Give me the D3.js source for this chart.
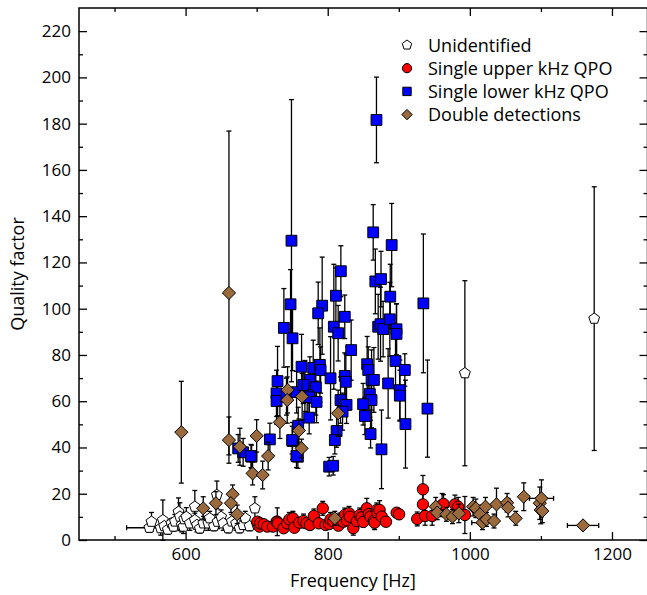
<!DOCTYPE html>
<html>
<head>
<meta charset="utf-8">
<script src="https://cdn.jsdelivr.net/npm/d3@7"></script>
<style>
  body { margin: 0; background: #fff; }
  svg text { font-family: "Open Sans", sans-serif; }
</style>
</head>
<body>
<div id="container"></div>
<script>
// each point: [frequency Hz, quality factor, Q error, frequency error]
let unidentified = [
  [549, 5.3, 2, 32], [552, 7.9, 4, 0], [565, 5.1, 3, 0], [568, 8.6, 8.7, 0],
  [570, 6, 2, 0], [575, 4.5, 2, 0], [580, 7.2, 2, 0], [583, 5.8, 2, 0],
  [585, 8, 3, 0], [590, 12.2, 6, 0], [592, 10.1, 6, 0], [594.5, 6.5, 3, 0],
  [597, 5.8, 3, 0], [598, 9, 3, 0], [601, 10, 4, 0], [606, 7.2, 3, 0],
  [613, 14.4, 7, 0], [613, 8.6, 3, 0], [616, 6.5, 3, 0], [620, 5, 2, 0],
  [625, 7.2, 3, 0], [632, 7.2, 3, 0], [634, 9.4, 3, 0], [640, 6, 2, 0],
  [644, 19.5, 6, 0], [645, 7.9, 3, 0], [650, 10, 3, 0], [653, 7.2, 3, 0],
  [660, 5.1, 2, 0], [665, 8, 3, 0], [671, 7.2, 3, 0], [676, 5.1, 2, 0],
  [681, 6.5, 2, 0], [684, 9.4, 3, 0], [690, 6, 2, 0], [697.5, 13.7, 5, 0],
  [700, 7, 2, 0],
  [993, 72.1, 40, 0], [1175, 95.7, 57, 0]
];

let upperKHz = [
  [701, 7.9, 2], [704, 5.8, 2], [705, 7.2, 2], [710, 6.8, 2], [715, 5.8, 2],
  [723, 5.8, 2], [728, 7.9, 2], [729, 7.9, 6], [730, 7.2, 2], [738, 5.1, 2],
  [743, 7.2, 2], [746, 8.9, 3], [751, 9.4, 3], [753, 5.3, 2], [760, 7.5, 2],
  [766, 8.2, 3], [770, 7.2, 2], [775, 6.5, 2], [780.5, 10.4, 3], [787.5, 7.2, 2],
  [793, 13.7, 3], [797, 6.5, 2], [802, 6.9, 2], [804, 8.9, 3], [808, 8, 2],
  [815, 6.2, 2], [817, 8.6, 3], [822, 7.9, 2], [824, 10.8, 3], [827, 8.5, 2],
  [830, 11.5, 3], [831, 10.1, 3], [836, 5.1, 3], [841, 8.2, 3], [845, 10.8, 3],
  [847.5, 9.8, 3], [850, 7.8, 2], [855, 13.7, 4.3], [858, 11.2, 3], [860, 10.1, 3],
  [865, 8.3, 3], [866, 7.5, 3], [869, 13, 3], [870, 11.8, 3], [873, 13, 4],
  [876, 10.1, 3], [882, 7.9, 2], [897, 11.8, 2], [900.5, 11.1, 2], [926, 9.1, 3],
  [934, 21.9, 6], [934, 15.4, 5], [937, 10.4, 4], [947, 10.4, 4], [961, 15.1, 5],
  [963, 15.6, 4], [979, 15.4, 4], [983.5, 14.4, 4], [993, 10.8, 8]
];

let lowerKHz = [
  [749, 129.4, 61], [868.6, 181.6, 18.5], [864, 133, 12], [890, 127.5, 18],
  [818.5, 116.2, 11], [867, 111.8, 14], [875, 112.8, 12], [811.5, 105.6, 12],
  [888, 105.2, 14], [934.6, 102.3, 30], [940.4, 56.8, 21], [747.7, 101.9, 15],
  [738.3, 91.7, 17], [750.5, 87.2, 14], [792.2, 101.3, 21], [786.6, 98, 13.5],
  [808.6, 92.2, 27], [814.7, 89.4, 12], [824, 96.5, 9.4], [833, 82.1, 13],
  [763.2, 74.9, 14], [779.6, 74.4, 12], [789, 75.7, 16], [790, 73.5, 10],
  [804, 69.9, 18], [824, 70.9, 10], [825.5, 68.4, 12], [729.4, 68.7, 15],
  [728, 63.4, 10], [728, 60.1, 10], [742, 62, 8], [756.2, 63.9, 9],
  [767.9, 66.6, 11], [774.9, 69.2, 10], [783.3, 66, 12], [771.1, 62.7, 8],
  [773.9, 61.7, 8], [784.3, 59.7, 9], [773.9, 52.9, 7], [750.5, 42.8, 8],
  [758.5, 49.4, 8], [758, 36, 5], [718.6, 43.5, 7], [692.9, 36, 5],
  [818, 60.5, 10], [826.5, 58.4, 8], [820.9, 55.5, 8], [812.5, 47.1, 7],
  [810, 43.2, 6], [802, 31.7, 4], [807.7, 32.1, 4], [855.5, 76, 12],
  [857, 73.5, 10], [861.7, 69.2, 13], [865, 69.2, 14], [859.3, 63.1, 10],
  [861.7, 60.5, 12], [849.8, 58.7, 9], [852.3, 53.6, 8], [860.3, 45.8, 6],
  [871, 92.2, 14], [874.3, 93.3, 16], [878, 91.2, 12], [887.4, 95.4, 16],
  [896.8, 91.1, 11], [896.8, 89.1, 13], [895.4, 77.4, 12], [908.5, 73.5, 7],
  [885, 67.7, 15], [901.5, 64.8, 13], [901.5, 62.4, 11], [909.4, 50.1, 19],
  [875.7, 39.2, 17], [765.5, 67, 8], [674, 39.6, 6], [681, 37.9, 6],
  [692, 36.3, 5], [750, 43.2, 6], [756, 36.3, 5]
];

let doubles = [
  [594, 46.6, 22, 0], [661, 106.8, 70, 0], [661, 43.2, 10, 0], [676.4, 40.3, 8, 0],
  [694.3, 28.8, 5, 0], [708.4, 28.1, 6, 0], [716.2, 36.3, 6, 0], [700, 45, 7, 0],
  [732.7, 50.9, 7, 0], [743.5, 64.9, 10, 0], [743, 60.5, 10, 0], [764, 62, 10, 0],
  [759.4, 47.3, 5, 0], [763.2, 39.6, 4, 0], [814.7, 54.8, 10, 0], [624.8, 13.7, 5, 0],
  [642.7, 15.9, 5, 0], [666.2, 19.8, 4, 0], [663.8, 15.9, 4, 0], [672.6, 11.1, 4, 0],
  [810, 9.4, 3, 0], [952, 14.4, 4, 0], [954, 11.8, 3, 0], [967, 11.1, 3, 0],
  [975.6, 10.1, 3, 0], [984.5, 11.5, 4, 0], [1004.6, 14.4, 4, 0], [1008.4, 13.7, 4, 0],
  [1014, 11.1, 4, 0], [1017.7, 7.5, 3, 15], [1022, 14.4, 4, 0], [1023.4, 8.9, 3, 0],
  [1034, 8.2, 3, 0], [1037.5, 15.4, 7, 0], [1052.4, 16.1, 4, 0], [1053.8, 14, 4, 0],
  [1064.6, 9.4, 3, 0], [1075.9, 18.7, 6, 0], [1098.4, 15.9, 7, 0], [1100.8, 18, 8, 17],
  [1099.8, 13, 6, 0], [1102, 12.5, 5, 0], [1159.3, 6.3, 1.5, 22]
];

let legendLabels = ["Unidentified", "Single upper kHz QPO", "Single lower kHz QPO", "Double detections"];
let xTicks = [600, 800, 1000, 1200];
let yTicks = [0, 20, 40, 60, 80, 100, 120, 140, 160, 180, 200, 220];

let w = 647;
let h = 595;
let padL = 79, padR = 647.5, padT = 8, padB = 540;

let viz = d3.select("#container")
  .append("svg")
    .attr("width", w)
    .attr("height", h)
    .style("background-color", "rgb(255,255,255)");

let xScale = d3.scaleLinear().domain([450, 1250]).range([padL, padR]);
let yScale = d3.scaleLinear().domain([0, 230]).range([padB, padT]);

// axes: ticks point inward on all four sides
function styleAxis(g) {
  g.select(".domain").remove();
  g.selectAll("line").attr("stroke", "#000").attr("stroke-width", 1.3);
  g.selectAll("text").attr("fill", "#000").style("font-size", "17px");
}

let xMinor = d3.range(500, 1250, 200);
let yMinor = d3.range(10, 230, 20);

viz.append("g").attr("transform", "translate(0," + padB + ")")
  .call(d3.axisBottom(xScale).tickValues(xTicks).tickSize(-8).tickPadding(8).tickFormat(d3.format("d")))
  .call(styleAxis);
viz.append("g").attr("transform", "translate(0," + padB + ")")
  .call(d3.axisBottom(xScale).tickValues(xMinor).tickSize(-4).tickFormat(""))
  .call(styleAxis);
viz.append("g").attr("transform", "translate(0," + padT + ")")
  .call(d3.axisTop(xScale).tickValues(xTicks).tickSize(-8).tickFormat(""))
  .call(styleAxis);
viz.append("g").attr("transform", "translate(0," + padT + ")")
  .call(d3.axisTop(xScale).tickValues(xMinor).tickSize(-4).tickFormat(""))
  .call(styleAxis);

viz.append("g").attr("transform", "translate(" + padL + ",0)")
  .call(d3.axisLeft(yScale).tickValues(yTicks).tickSize(-8).tickPadding(8))
  .call(styleAxis);
viz.append("g").attr("transform", "translate(" + padL + ",0)")
  .call(d3.axisLeft(yScale).tickValues(yMinor).tickSize(-4).tickFormat(""))
  .call(styleAxis);
viz.append("g").attr("transform", "translate(" + padR + ",0)")
  .call(d3.axisRight(yScale).tickValues(yTicks).tickSize(-8).tickFormat(""))
  .call(styleAxis);
viz.append("g").attr("transform", "translate(" + padR + ",0)")
  .call(d3.axisRight(yScale).tickValues(yMinor).tickSize(-4).tickFormat(""))
  .call(styleAxis);

viz.append("rect")
  .attr("x", padL).attr("y", padT)
  .attr("width", padR - padL).attr("height", padB - padT)
  .attr("fill", "none").attr("stroke", "#000").attr("stroke-width", 1.5);

// axis titles
viz.append("text")
  .attr("x", 353).attr("y", 587)
  .attr("text-anchor", "middle")
  .style("font-size", "18px")
  .text("Frequency [Hz]");
viz.append("text")
  .attr("transform", "translate(24," + ((padT + padB) / 2) + ") rotate(-90)")
  .attr("text-anchor", "middle")
  .style("font-size", "18px")
  .text("Quality factor");

// marker shapes
function pentagonPath(r) {
  let pts = [];
  for (let i = 0; i < 5; i++) {
    let a = -Math.PI / 2 + i * 2 * Math.PI / 5;
    pts.push([r * Math.cos(a), r * Math.sin(a)]);
  }
  return "M" + pts.map(p => p.join(",")).join("L") + "Z";
}
function diamondPath(r) {
  return "M0," + (-r) + "L" + r + ",0L0," + r + "L" + (-r) + ",0Z";
}
function squarePath(s) {
  return "M" + (-s) + "," + (-s) + "H" + s + "V" + s + "H" + (-s) + "Z";
}

let series = [
  { data: unidentified, fill: "#ffffff", path: pentagonPath(5.7), circle: false },
  { data: upperKHz, fill: "#ff0000", circle: true, r: 5.7 },
  { data: lowerKHz, fill: "#0000ff", path: squarePath(5.4), circle: false },
  { data: doubles, fill: "#9a6a3c", path: diamondPath(6.6), circle: false }
];

let cap = 2.5;
series.forEach(function(s) {
  let g = viz.append("g");
  // error bars
  let bars = g.selectAll(".err").data(s.data).enter().append("g")
    .attr("stroke", "#000").attr("stroke-width", 1.3);
  bars.append("line")
    .attr("x1", d => xScale(d[0])).attr("x2", d => xScale(d[0]))
    .attr("y1", d => yScale(d[1] + d[2])).attr("y2", d => yScale(d[1] - d[2]));
  bars.append("line")
    .attr("x1", d => xScale(d[0]) - cap).attr("x2", d => xScale(d[0]) + cap)
    .attr("y1", d => yScale(d[1] + d[2])).attr("y2", d => yScale(d[1] + d[2]));
  bars.append("line")
    .attr("x1", d => xScale(d[0]) - cap).attr("x2", d => xScale(d[0]) + cap)
    .attr("y1", d => yScale(d[1] - d[2])).attr("y2", d => yScale(d[1] - d[2]));
  let xb = bars.filter(d => d[3] > 0);
  xb.append("line")
    .attr("x1", d => xScale(d[0] - d[3])).attr("x2", d => xScale(d[0] + d[3]))
    .attr("y1", d => yScale(d[1])).attr("y2", d => yScale(d[1]));
  xb.append("line")
    .attr("x1", d => xScale(d[0] - d[3])).attr("x2", d => xScale(d[0] - d[3]))
    .attr("y1", d => yScale(d[1]) - cap).attr("y2", d => yScale(d[1]) + cap);
  xb.append("line")
    .attr("x1", d => xScale(d[0] + d[3])).attr("x2", d => xScale(d[0] + d[3]))
    .attr("y1", d => yScale(d[1]) - cap).attr("y2", d => yScale(d[1]) + cap);

  // markers
  let marks = g.selectAll(".mark").data(s.data).enter();
  if (s.circle) {
    marks.append("circle")
      .attr("cx", d => xScale(d[0])).attr("cy", d => yScale(d[1]))
      .attr("r", s.r)
      .attr("fill", s.fill).attr("stroke", "#000").attr("stroke-width", 1);
  } else {
    marks.append("path")
      .attr("d", s.path)
      .attr("transform", d => "translate(" + xScale(d[0]) + "," + yScale(d[1]) + ")")
      .attr("fill", s.fill).attr("stroke", "#000").attr("stroke-width", 1);
  }
});

// legend
let legendShapes = [pentagonPath(5), null, squarePath(4.2), diamondPath(5.2)];
let legend = viz.append("g").attr("transform", "translate(407,45)");
legendLabels.forEach(function(label, i) {
  let y = i * 23.2;
  if (i === 1) {
    legend.append("circle").attr("cx", 0).attr("cy", y).attr("r", 4.6)
      .attr("fill", series[i].fill).attr("stroke", "#000").attr("stroke-width", 1);
  } else {
    legend.append("path").attr("d", legendShapes[i])
      .attr("transform", "translate(0," + y + ")")
      .attr("fill", series[i].fill).attr("stroke", "#000").attr("stroke-width", 1);
  }
  legend.append("text")
    .attr("x", 21).attr("y", y + 6.5)
    .style("font-size", "18px")
    .text(label);
});
</script>
</body>
</html>
